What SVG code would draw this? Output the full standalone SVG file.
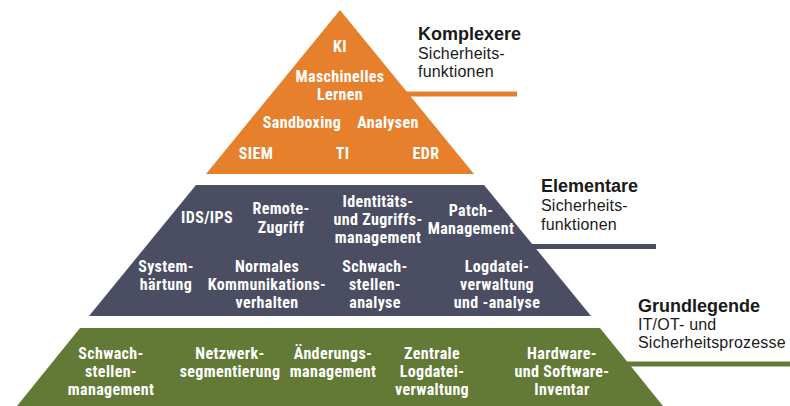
<svg xmlns="http://www.w3.org/2000/svg" width="790" height="406" viewBox="0 0 790 406">
<style>
.t{font-family:"Liberation Sans Narrow","Roboto Condensed","DejaVu Sans Condensed",sans-serif;font-stretch:condensed;font-size:16px;font-weight:bold;letter-spacing:0.35px;fill:#ffffff;text-anchor:middle}
.h{font-family:"Liberation Sans",Arial,sans-serif;font-size:18px;font-weight:bold;fill:#1a1a1a}
.s{font-family:"Liberation Sans",Arial,sans-serif;font-size:16px;letter-spacing:0.2px;fill:#1a1a1a}
.ln{stroke-width:5;fill:none}
</style>
<rect width="790" height="406" fill="#ffffff"/>
<g id="connectors">
<line class="ln" x1="400" y1="94" x2="517" y2="94" stroke="#E6802D"/>
<line class="ln" x1="520" y1="246.5" x2="656" y2="246.5" stroke="#4B4D62"/>
<line class="ln" x1="620" y1="364" x2="790" y2="364" stroke="#637A37"/>
</g>
<g id="tier-komplex">
<polygon points="340,10 474,174 206,174" fill="#E6802D"/>
<text class="t" x="340" y="52">KI</text>
<text class="t" x="340" y="82">Maschinelles<tspan x="340" dy="18">Lernen</tspan></text>
<text class="t" x="302" y="128">Sandboxing</text>
<text class="t" x="388" y="128">Analysen</text>
<text class="t" x="256" y="159">SIEM</text>
<text class="t" x="342.5" y="159">TI</text>
<text class="t" x="426" y="159">EDR</text>
</g>
<g id="tier-elementar">
<polygon points="196,185 484,185 591,316 89,316" fill="#4B4D62"/>
<text class="t" x="207" y="223">IDS/IPS</text>
<text class="t" x="281" y="214">Remote-<tspan x="281" dy="19">Zugriff</tspan></text>
<text class="t" x="378" y="207">Identitäts-<tspan x="378" dy="18">und Zugriffs-</tspan><tspan x="378" dy="18">management</tspan></text>
<text class="t" x="471" y="216">Patch-<tspan x="471" dy="18">Management</tspan></text>
<text class="t" x="166" y="272">System-<tspan x="166" dy="18">härtung</tspan></text>
<text class="t" x="267" y="272">Normales<tspan x="267" dy="18">Kommunikations-</tspan><tspan x="267" dy="18">verhalten</tspan></text>
<text class="t" x="375" y="272">Schwach-<tspan x="375" dy="18">stellen-</tspan><tspan x="375" dy="18">analyse</tspan></text>
<text class="t" x="497" y="272">Logdatei-<tspan x="497" dy="18">verwaltung</tspan><tspan x="497" dy="18">und -analyse</tspan></text>
</g>
<g id="tier-grundlegend">
<polygon points="80,328 600,328 663,406 17,406" fill="#637A37"/>
<text class="t" x="111" y="359">Schwach-<tspan x="111" dy="18">stellen-</tspan><tspan x="111" dy="18">management</tspan></text>
<text class="t" x="230" y="359">Netzwerk-<tspan x="230" dy="18">segmentierung</tspan></text>
<text class="t" x="333" y="359">Änderungs-<tspan x="333" dy="18">management</tspan></text>
<text class="t" x="432" y="359">Zentrale<tspan x="432" dy="18">Logdatei-</tspan><tspan x="432" dy="18">verwaltung</tspan></text>
<text class="t" x="562" y="359">Hardware-<tspan x="562" dy="18">und Software-</tspan><tspan x="562" dy="18">Inventar</tspan></text>
</g>
<g id="label-komplex">
<text class="h" x="418" y="40">Komplexere</text>
<text class="s" x="418" y="59">Sicherheits-<tspan x="418" dy="18">funktionen</tspan></text>
</g>
<g id="label-elementar">
<text class="h" x="541" y="192">Elementare</text>
<text class="s" x="541" y="211">Sicherheits-<tspan x="541" dy="19">funktionen</tspan></text>
</g>
<g id="label-grundlegend">
<text class="h" x="638" y="312">Grundlegende</text>
<text class="s" x="638" y="330">IT/OT- und<tspan x="638" dy="18">Sicherheitsprozesse</tspan></text>
</g>
</svg>
